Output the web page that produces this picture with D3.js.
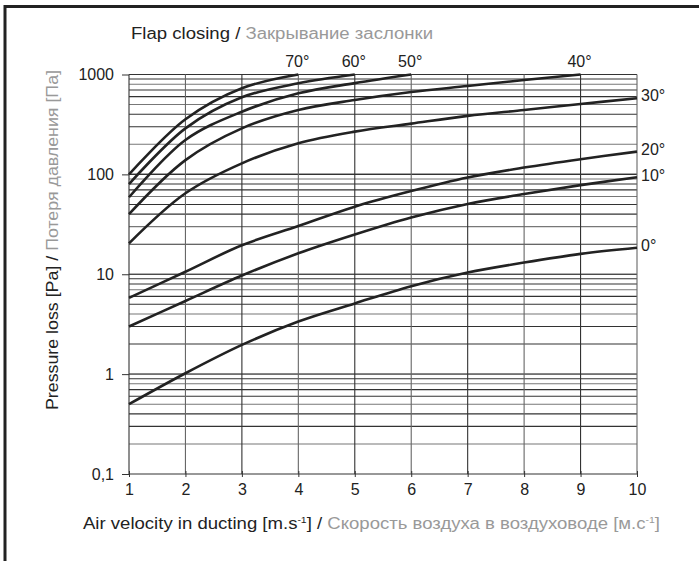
<!DOCTYPE html>
<html>
<head>
<meta charset="utf-8">
<script src="https://cdn.jsdelivr.net/npm/d3@7"></script>
<style>
  body { margin: 0; background: #fff; }
  svg text { font-family: 'Liberation Sans', Arial, sans-serif; }
</style>
</head>
<body>
<svg width="699" height="561"></svg>
<script>
// air velocity [m/s]
var velocity = [1, 2, 3, 4, 5, 6, 7, 8, 9, 10]

// pressure loss [Pa] per flap angle (curves stop at 1000 Pa)
var loss70 = [100, 356, 728, 1000]
var loss60 = [80, 289, 591, 816, 1000]
var loss50 = [59, 221, 424, 648, 820, 1000]
var loss40 = [40, 139, 289, 441, 556, 668, 767, 881, 1000]
var loss30 = [20.4, 64.7, 129, 205, 268, 322, 385, 441, 507, 578]
var loss20 = [5.8, 10.6, 19.5, 30.4, 47.5, 68, 93, 117, 142, 169]
var loss10 = [3.0, 5.4, 9.7, 16.2, 25, 37, 50.6, 63.6, 78, 93.5]
var loss0 = [0.5, 1.02, 1.96, 3.36, 5.1, 7.6, 10.4, 13.1, 16.0, 18.4]

var angleLabels = ['70°', '60°', '50°', '40°', '30°', '20°', '10°', '0°']
var yTicks = [0.1, 1, 10, 100, 1000]
var yTickLabels = ['0,1', '1', '10', '100', '1000']

var series = [loss70, loss60, loss50, loss40, loss30, loss20, loss10, loss0]

var svg = d3.select('svg')
var pLeft = 129, pRight = 637, pTop = 74.5, pBottom = 474

var x = d3.scaleLinear().domain([1, 10]).range([pLeft, pRight])
var y = d3.scaleLog().domain([0.1, 1000]).range([pBottom, pTop])

// frame (top and left only)
svg.append('path')
  .attr('d', 'M5,561 L5,6.5 L699,6.5')
  .attr('fill', 'none')
  .attr('stroke', '#222')
  .attr('stroke-width', 3)

// grid
var minor = []
for (var e = -1; e < 3; e++) {
  for (var m = 1; m <= 10; m++) minor.push(m * Math.pow(10, e))
}
var grid = svg.append('g').attr('stroke', '#3a3a3a').attr('stroke-width', 1.1)
grid.selectAll('line.h').data(minor).enter().append('line')
  .attr('stroke', function(d, i) { return i % 3 == 1 ? '#777' : '#333' })
  .attr('x1', pLeft).attr('x2', pRight)
  .attr('y1', function(d) { return y(d) }).attr('y2', function(d) { return y(d) })
grid.selectAll('line.v').data(velocity).enter().append('line')
  .attr('stroke', function(d, i) { return i % 2 ? '#666' : '#333' })
  .attr('x1', function(d) { return x(d) }).attr('x2', function(d) { return x(d) })
  .attr('y1', pTop).attr('y2', pBottom)

// axes
var yAxis = d3.axisLeft(y).tickValues(yTicks)
  .tickFormat(function(d, i) { return yTickLabels[i] })
  .tickSize(7).tickPadding(8)
var gy = svg.append('g').attr('transform', 'translate(' + pLeft + ',0)').call(yAxis)
gy.select('.domain').remove()
gy.selectAll('line').attr('stroke', '#333')
gy.selectAll('text').attr('font-size', 16).attr('fill', '#222')

var xAxis = d3.axisBottom(x).tickValues(velocity).tickSize(6).tickPadding(7)
var gx = svg.append('g').attr('transform', 'translate(0,' + pBottom + ')').call(xAxis)
gx.select('.domain').remove()
gx.selectAll('line').attr('stroke', '#333').attr('y1', -3).attr('y2', 3)
gx.selectAll('text').attr('font-size', 16).attr('fill', '#222').attr('dy', '0.5em')

// curves
var line = d3.line()
  .x(function(d, i) { return x(velocity[i]) })
  .y(function(d) { return y(d) })
  .curve(d3.curveCatmullRom.alpha(0.5))

svg.append('g').selectAll('path').data(series).enter().append('path')
  .attr('d', function(d) { return line(d) })
  .attr('fill', 'none')
  .attr('stroke', '#222')
  .attr('stroke-width', 2.6)

// angle labels
svg.append('g').selectAll('text').data(series).enter().append('text')
  .attr('font-size', 16)
  .attr('fill', '#222')
  .each(function(d, i) {
    var last = d[d.length - 1]
    var t = d3.select(this).text(angleLabels[i])
    if (last >= 1000) {
      t.attr('x', x(velocity[d.length - 1]) - 1).attr('y', 67).attr('text-anchor', 'middle')
    } else {
      t.attr('x', pRight + 4).attr('y', y(last) - 1).attr('dominant-baseline', 'middle')
    }
  })

// titles
var topTitle = svg.append('text').attr('x', 131).attr('y', 39).attr('font-size', 16)
  .attr('textLength', 302).attr('lengthAdjust', 'spacingAndGlyphs')
topTitle.append('tspan').attr('fill', '#222').text('Flap closing / ')
topTitle.append('tspan').attr('fill', '#999').text('Закрывание заслонки')

var xt = svg.append('text').attr('x', 83).attr('y', 529).attr('font-size', 16)
  .attr('textLength', 577).attr('lengthAdjust', 'spacingAndGlyphs')
xt.append('tspan').attr('fill', '#222').text('Air velocity in ducting [m.s')
xt.append('tspan').attr('fill', '#222').attr('font-size', 9).attr('dy', -6).text('-1')
xt.append('tspan').attr('fill', '#222').attr('dy', 6).text('] / ')
xt.append('tspan').attr('fill', '#999').text('Скорость воздуха в воздуховоде [м.с')
xt.append('tspan').attr('fill', '#999').attr('font-size', 9).attr('dy', -6).text('-1')
xt.append('tspan').attr('fill', '#999').attr('dy', 6).text(']')

var yt = svg.append('text')
  .attr('transform', 'translate(58,410) rotate(-90)')
  .attr('font-size', 16)
  .attr('textLength', 340).attr('lengthAdjust', 'spacingAndGlyphs')
yt.append('tspan').attr('fill', '#222').text('Pressure loss [Pa] / ')
yt.append('tspan').attr('fill', '#999').text('Потеря давления [Па]')
</script>
</body>
</html>
